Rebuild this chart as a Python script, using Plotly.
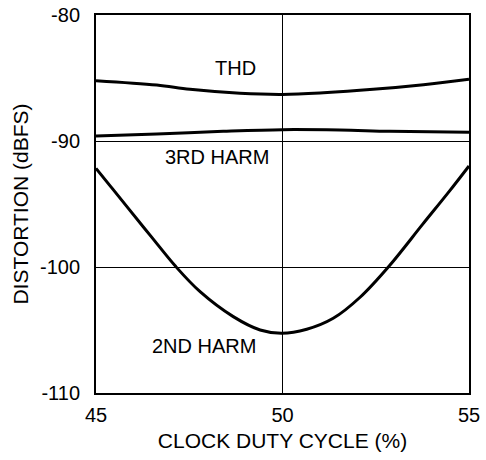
import plotly.graph_objects as go

# duty cycle (%) and distortion (dBFS)
thd_x = [45, 46.63, 47.52, 48.86, 50, 51.1, 52.43, 53.78, 55]
thd_y = [-85.21, -85.56, -85.9, -86.21, -86.3, -86.17, -85.9, -85.53, -85.1]

h3_x = [45, 46.63, 48.41, 50, 51.54, 52.88, 55]
h3_y = [-89.6, -89.44, -89.23, -89.1, -89.13, -89.23, -89.31]

h2_x = [45, 45.39, 45.84, 46.47, 47.14, 47.79, 48.68, 49.40, 49.98,
        50.65, 51.36, 52.08, 52.86, 53.76, 54.47, 55]
h2_y = [-92.17, -93.6, -95.25, -97.55, -99.97, -101.96, -103.94, -105.0, -105.26,
        -104.94, -104.07, -102.4, -99.92, -96.6, -94.0, -91.98]

labels = ["THD", "3RD HARM", "2ND HARM"]
label_x = [48.75, 48.25, 47.9]
label_y = [-84.2, -91.3, -106.3]

y_ticks = [-110, -100, -90, -80]
y_text = ["-110", "-100", "-90", "-80"]

FONT = "Liberation Sans, Arial, sans-serif"

fig = go.Figure()
for xs, ys in [(thd_x, thd_y), (h3_x, h3_y), (h2_x, h2_y)]:
    fig.add_trace(go.Scatter(
        x=xs, y=ys, mode="lines",
        line=dict(color="black", width=3, shape="spline", smoothing=1.0),
        showlegend=False, hoverinfo="skip",
    ))

for t, lx, ly in zip(labels, label_x, label_y):
    fig.add_annotation(x=lx, y=ly, text=t, showarrow=False,
                       font=dict(family=FONT, size=20, color="black"))

fig.update_layout(
    width=486, height=460,
    margin=dict(l=96, r=17, t=15, b=67),
    plot_bgcolor="white", paper_bgcolor="white",
    font=dict(family=FONT, size=20, color="black"),
)
fig.update_xaxes(
    range=[45, 55], tickvals=[45, 50, 55], ticks="",
    showgrid=True, gridcolor="black", gridwidth=1,
    showline=True, mirror=True, linecolor="black", linewidth=2,
    zeroline=False, ticklabelstandoff=3, automargin=False,
    ticklabeloverflow="allow",
    title=dict(text="CLOCK DUTY CYCLE (%)", font=dict(size=21), standoff=8),
)
fig.update_yaxes(
    range=[-110, -80], tickvals=y_ticks, ticktext=y_text, ticks="",
    showgrid=True, gridcolor="black", gridwidth=1,
    showline=True, mirror=True, linecolor="black", linewidth=2,
    zeroline=False, ticklabelstandoff=10, automargin=False,
    ticklabeloverflow="allow",
    title=dict(text="DISTORTION (dBFS)", font=dict(size=21), standoff=6),
)

# drop the default 8px body margin so the figure sits at the page origin
fig.write_html("out.html", config={"displayModeBar": False},
               post_script="document.body.style.margin='0';")
